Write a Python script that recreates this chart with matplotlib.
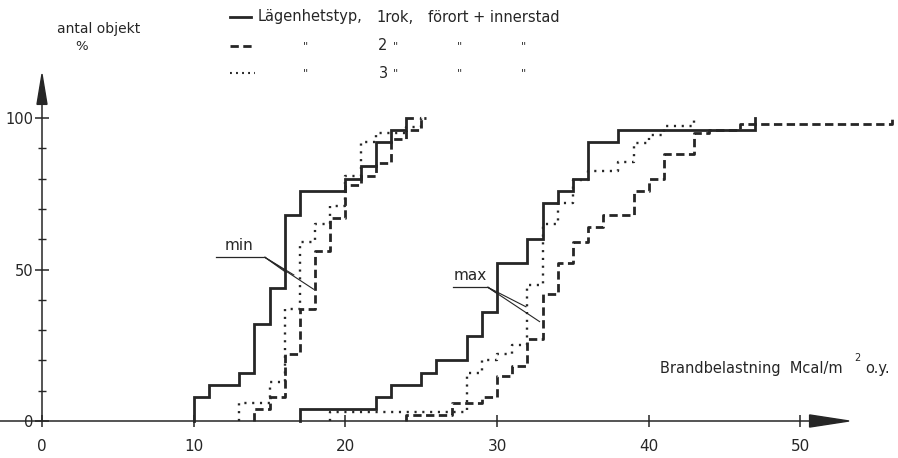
import numpy as np
import matplotlib
matplotlib.use('Agg')
import matplotlib.pyplot as plt
from matplotlib.lines import Line2D
from matplotlib.patches import Polygon

# kumulativa fördelningar (x = Mcal/m2 o.y., y = antal objekt %)
# min-kurvor
min1_x = [10, 11, 13, 14, 15, 16, 17, 20, 21, 22, 23, 24]
min1_y = [8, 12, 16, 32, 44, 68, 76, 80, 84, 92, 96, 100]
min2_x = [14, 15, 16, 17, 18, 19, 20, 21, 22, 23, 24, 25]
min2_y = [4, 8, 22, 37, 56, 67, 78, 81, 85, 93, 96, 100]
min3_x = [13, 15, 16, 17, 18, 19, 20, 21, 22, 24, 25]
min3_y = [6, 13, 37, 59, 65, 71, 81, 92, 95, 97, 100]

# max-kurvor
max1_x = [17, 22, 23, 25, 26, 28, 29, 30, 32, 33, 34, 35, 36, 38, 47]
max1_y = [4, 8, 12, 16, 20, 28, 36, 52, 60, 72, 76, 80, 92, 96, 100]
max2_x = [24, 27, 29, 30, 31, 32, 33, 34, 35, 36, 37, 39, 40, 41, 43, 44, 46, 56]
max2_y = [2, 6, 8, 15, 18, 27, 42, 52, 59, 64, 68, 76, 80, 88, 95, 96, 98, 100]
max3_x = [19, 28, 29, 30, 31, 32, 33, 34, 35, 36, 38, 39, 40, 41, 43]
max3_y = [3, 16, 20, 22, 25, 45, 65, 72, 79.5, 82.5, 85.5, 91.6, 94.4, 97.4, 100]

x_ticks = [0, 10, 20, 30, 40, 50]
y_ticks = [0, 50, 100]

W, H = 898, 458
ink = '#262626'

# pixel -> data (0 vid x=42px, 15.17 px/enhet ; 0 vid y=421px, 3.03 px/%)
sx, sy = 15.17, 3.03
x0px, y0px = 42, 421

fig = plt.figure(figsize=(W / 100, H / 100), dpi=100)
fig.patch.set_facecolor('white')
ax = fig.add_axes([0, 0, 1, 1])
ax.set_xlim(-x0px / sx, (W - x0px) / sx)
ax.set_ylim(-(H - y0px) / sy, y0px / sy)
ax.set_facecolor('white')


def stairs(xs, ys, end, **kw):
    x = np.r_[xs[0], xs, end]
    y = np.r_[0, ys, ys[-1]]
    ax.step(x, y, where='post', color=ink, solid_joinstyle='miter', **kw)


solid = dict(lw=2.0, linestyle='-')
dashed = dict(lw=2.0, linestyle=(0, (3.0, 1.6)))
dotted = dict(lw=1.7, linestyle=(0, (0.9, 2.4)))

stairs(min1_x, min1_y, 24.4, **solid)
stairs(min2_x, min2_y, 25.3, **dashed)
stairs(min3_x, min3_y, 25.2, **dotted)
stairs(max1_x, max1_y, 47.0, **solid)
stairs(max2_x, max2_y, 56.0, **dashed)
stairs(max3_x, max3_y, 43.0, **dotted)

# axlar
for s in ['top', 'right']:
    ax.spines[s].set_visible(False)
ax.spines['left'].set_position(('data', 0))
ax.spines['bottom'].set_position(('data', 0))
ax.spines['left'].set_bounds(0, 105)
ax.spines['bottom'].set_bounds(-x0px / sx, 51)
for s in ['left', 'bottom']:
    ax.spines[s].set_linewidth(1.1)
    ax.spines[s].set_color(ink)

ax.set_xticks(x_ticks)
ax.set_xticklabels([str(v) for v in x_ticks])
ax.set_yticks(y_ticks)
ax.set_yticklabels([str(v) for v in y_ticks])
ax.set_yticks(np.arange(0, 101, 10), minor=True)
ax.tick_params(axis='x', direction='inout', length=8, width=1.1, pad=9,
               labelsize=11, colors=ink)
ax.tick_params(axis='y', which='major', direction='inout', length=10, width=1.1,
               pad=1, labelsize=10.5, colors=ink)
ax.tick_params(axis='y', which='minor', direction='inout', length=6, width=1.0,
               colors=ink)

# pilspetsar
ax.add_patch(Polygon([[-0.33, 104.5], [0.33, 104.5], [0, 114.5]],
                     closed=True, color=ink))
ax.add_patch(Polygon([[50.6, -2.0], [50.6, 2.0], [53.2, 0]],
                     closed=True, color=ink))

# min / max hänvisningslinjer
ax.plot([11.5, 14.7], [54, 54], color=ink, lw=0.9)
for ex, ey in [(16.1, 49), (16.6, 48.2), (17.9, 43.5)]:
    ax.plot([14.7, ex], [54, ey], color=ink, lw=0.8)
ax.text(13.0, 55.5, 'min', ha='center', va='bottom', fontsize=11, color=ink)

ax.plot([27.1, 29.4], [44.1, 44.1], color=ink, lw=0.9)
for ex, ey in [(30.0, 42.1), (31.9, 37.7), (32.8, 32.8)]:
    ax.plot([29.4, ex], [44.1, ey], color=ink, lw=0.8)
ax.text(28.2, 45.6, 'max', ha='center', va='bottom', fontsize=11, color=ink)


def ftext(px, py, s, **kw):
    fig.text(px / W, 1 - py / H, s, color=ink, va='center', **kw)


def fline(px1, px2, py, **kw):
    fig.add_artist(Line2D([px1 / W, px2 / W], [1 - py / H] * 2, color=ink, **kw))


# axeltitlar
ftext(99, 29, 'antal objekt', ha='center', fontsize=10)
ftext(82, 47, '%', ha='center', fontsize=9.5)
ftext(660, 368, 'Brandbelastning  Mcal/m', ha='left', fontsize=10.5)
ftext(857, 358, '2', ha='center', fontsize=7)
ftext(865, 369, 'o.y.', ha='left', fontsize=10.5)

# legend
fline(230, 251, 17, lw=2.0)
fline(230, 253, 46, lw=2.0, linestyle=(0, (3.0, 1.6)))
fline(230, 255, 73, lw=1.5, linestyle=(0, (0.9, 2.0)))
ftext(258, 17, 'Lägenhetstyp,', ha='left', fontsize=10.5)
ftext(376, 17, '1rok,', ha='left', fontsize=10.5)
ftext(428, 17, 'förort + innerstad', ha='left', fontsize=10.5)
for py, n in [(46, '2'), (73, '3')]:
    ftext(306, py, '"', ha='center', fontsize=8)
    ftext(383, py, n, ha='center', fontsize=10.5)
    ftext(395, py, '"', ha='center', fontsize=8)
    ftext(459, py, '"', ha='center', fontsize=8)
    ftext(523, py, '"', ha='center', fontsize=8)

fig.savefig('out.png', dpi=100, facecolor='white')
